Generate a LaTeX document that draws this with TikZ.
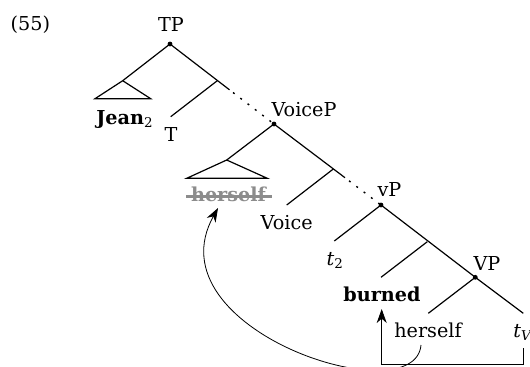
\documentclass[tikz,border=0pt]{standalone}
\usepackage{fontspec}
\setmainfont{DejaVu Serif}
\usetikzlibrary{arrows.meta}

\begin{document}
\begin{tikzpicture}[x=0.5pt, y=-0.5pt, semithick,
    font=\fontsize{9.6}{11}\selectfont,
    lbl/.style={anchor=base, inner sep=0pt},
    lblw/.style={anchor=base west, inner sep=0pt},
    dots/.style={line width=0.7pt, dash pattern=on 1pt off 3.6pt},
    strike/.style={gray!90, line width=1.5pt},
    mover/.style={-{Stealth[length=7pt, width=5pt, inset=2.2pt]}, thin}]
    %%Background
    \useasboundingbox (0,0) rectangle (530,366);

    %% Tree points
    \coordinate (tp) at (170,44);
    \coordinate (jeanTop) at (122.7,80.7);
    \coordinate (jeanL) at (95,98.7);
    \coordinate (jeanR) at (150.7,98.7);
    \coordinate (tJ) at (217.3,80.7);
    \coordinate (tFoot) at (170.7,116.7);
    \coordinate (tSolid) at (229.5,89.8);
    \coordinate (tDots) at (233,92.5);
    \coordinate (voicep) at (274,124);
    \coordinate (hsTop) at (226.7,160);
    \coordinate (hsL) at (186.7,178.3);
    \coordinate (hsR) at (267.3,178.3);
    \coordinate (vJ) at (333.3,169);
    \coordinate (voiceFoot) at (286.7,205);
    \coordinate (vSolid) at (345,177.7);
    \coordinate (vDots) at (349,180.8);
    \coordinate (vp) at (381,205);
    \coordinate (t2Foot) at (334.3,241);
    \coordinate (vpJ) at (427.3,241.7);
    \coordinate (burnedFoot) at (381,277.3);
    \coordinate (bigvp) at (475.3,277.3);
    \coordinate (hFoot) at (428.3,313.3);
    \coordinate (tvFoot) at (523.3,313.3);

    %% Labels
    \node[lblw] (ex) at (10,30) {(55)};
    \node[lbl] (tpLbl) at (171,31.7) {TP};
    \node[lblw] (voicepLbl) at (271,116) {VoiceP};
    \node[lblw] (vpLbl) at (377,196.7) {vP};
    \node[lblw] (bigvpLbl) at (473,270) {VP};
    \node[lblw] (jean) at (95.7,124) {\textbf{Jean}\textsubscript{2}};
    \node[lbl] (tLbl) at (171,141.7) {T};
    \node[lbl, gray!90] (hsLbl) at (229,201.7) {\textbf{herself}};
    \node[lbl] (voiceLbl) at (286.7,229.3) {Voice};
    \node[lblw] (t2) at (326,265) {\textit{t}\textsubscript{2}};
    \node[lbl] (burned) at (382,301.7) {\textbf{burned}};
    \node[lbl] (herself) at (428,337.3) {herself};
    \node[lblw] (tv) at (512.7,337.3) {\textit{t}\textsubscript{\textit{V}}};

    %% Branches
    \draw (tp) to (jeanTop);
    \draw (jeanTop) to (jeanL) to (jeanR) to (jeanTop);
    \draw (tp) to (tSolid);
    \draw (tJ) to (tFoot);
    \draw[dots] (tDots) to (voicep);
    \draw (voicep) to (hsTop);
    \draw (hsTop) to (hsL) to (hsR) to (hsTop);
    \draw (voicep) to (vSolid);
    \draw (vJ) to (voiceFoot);
    \draw[dots] (vDots) to (vp);
    \draw (vp) to (t2Foot);
    \draw (vp) to (bigvp);
    \draw (vpJ) to (burnedFoot);
    \draw (bigvp) to (hFoot);
    \draw (bigvp) to (tvFoot);
    \foreach \n in {tp,voicep,vp,bigvp}
    {
    \fill (\n) circle (1.2pt);
    }

    %% Deleted copy
    \draw[strike] ([xshift=-2pt,yshift=2.5pt]hsLbl.base west) to ([xshift=2pt,yshift=2.5pt]hsLbl.base east);

    %% Movement
    \coordinate (tvOut) at (523.3,348);
    \coordinate (burnedIn) at (381.7,309);
    \coordinate (hOut) at (421,345);
    \coordinate (hsIn) at (218,208);
    \draw[mover] (tvOut) -- ++(0,16) -| (burnedIn);
    \draw[mover] (hOut) .. controls (415,415) and (150,330) .. (hsIn);

\end{tikzpicture}
\end{document}
